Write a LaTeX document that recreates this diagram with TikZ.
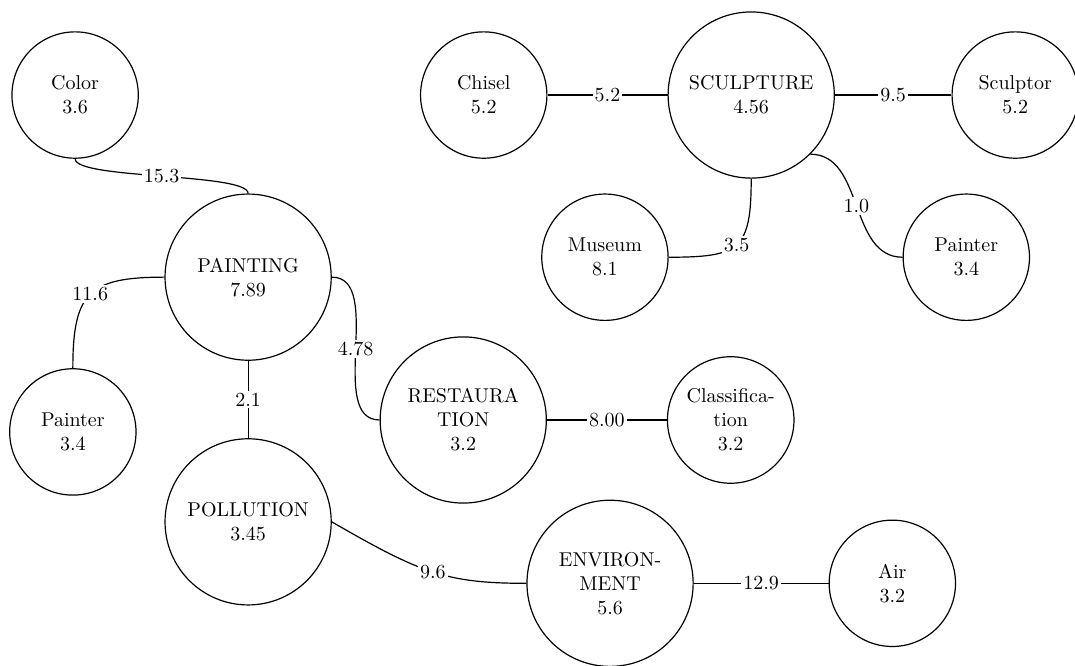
\documentclass[tikz,border=0pt]{standalone}
\usepackage{amsmath}
\usepackage{tikz}
\usetikzlibrary{arrows}

\begin{document}
\begin{tikzpicture}[-,node distance=4.7cm,semithick]

    \tikzstyle{big}=[circle,draw=black,fill=white,text=black,align=center,minimum size=2.92cm]
    \tikzstyle{small}=[circle,draw=black,fill=white,text=black,align=center,minimum size=2.22cm]
    \tikzstyle{weight}=[fill=white,inner sep=1pt,anchor=center]

    \useasboundingbox (0,0) rectangle (18.89,-11.70);

    \node[small] (Color)          at (1.32,-1.67)  {Color\\3.6};
    \node[big]   (PAINTING)       at (4.36,-4.87)  {PAINTING\\7.89};
    \node[small] (PainterL)       at (1.28,-7.59)  {Painter\\3.4};
    \node[big]   (POLLUTION)      at (4.36,-9.17)  {POLLUTION\\3.45};
    \node[big]   (RESTAURATION)   at (8.14,-7.38)  {RESTAURA\\TION\\3.2};
    \node[small] (Classification) [right of=RESTAURATION] {Classifica-\\tion\\3.2};
    \node[big]   (ENVIRONMENT)    at (10.72,-10.25) {ENVIRON-\\MENT\\5.6};
    \node[small] (Air)            [right of=ENVIRONMENT, xshift=2.6mm] {Air\\3.2};
    \node[big]   (SCULPTURE)      at (13.20,-1.67) {SCULPTURE\\4.56};
    \node[small] (Chisel)         [left of=SCULPTURE] {Chisel\\5.2};
    \node[small] (Sculptor)       [right of=SCULPTURE, xshift=-0.6mm] {Sculptor\\5.2};
    \node[small] (Museum)         at (10.63,-4.52) {Museum\\8.1};
    \node[small] (PainterR)       at (16.98,-4.52) {Painter\\3.4};

    \path (Color)        edge[out=-90,in=90,looseness=0.3] node[weight] {15.3} (PAINTING)
          (PAINTING)     edge[out=180,in=90,looseness=1.5] node[weight] {11.6} (PainterL)
          (PAINTING)     edge node[weight] {2.1} (POLLUTION)
          (PAINTING)     edge[out=0,in=180,looseness=0.9] node[weight] {4.78} (RESTAURATION)
          (RESTAURATION) edge node[weight] {8.00} (Classification)
          (POLLUTION.east) edge[out=-30,in=180,out looseness=1.3] node[weight] {9.6} (ENVIRONMENT)
          (ENVIRONMENT)  edge node[weight] {12.9} (Air)
          (Chisel)       edge node[weight] {5.2} (SCULPTURE)
          (SCULPTURE)    edge node[weight] {9.5} (Sculptor)
          (SCULPTURE)    edge[out=-90,in=0,looseness=1.6] node[weight] {3.5} (Museum)
          (SCULPTURE.south east) edge[out=0,in=180] node[weight] {1.0} (PainterR.west)
    ;
\end{tikzpicture}
\end{document}
